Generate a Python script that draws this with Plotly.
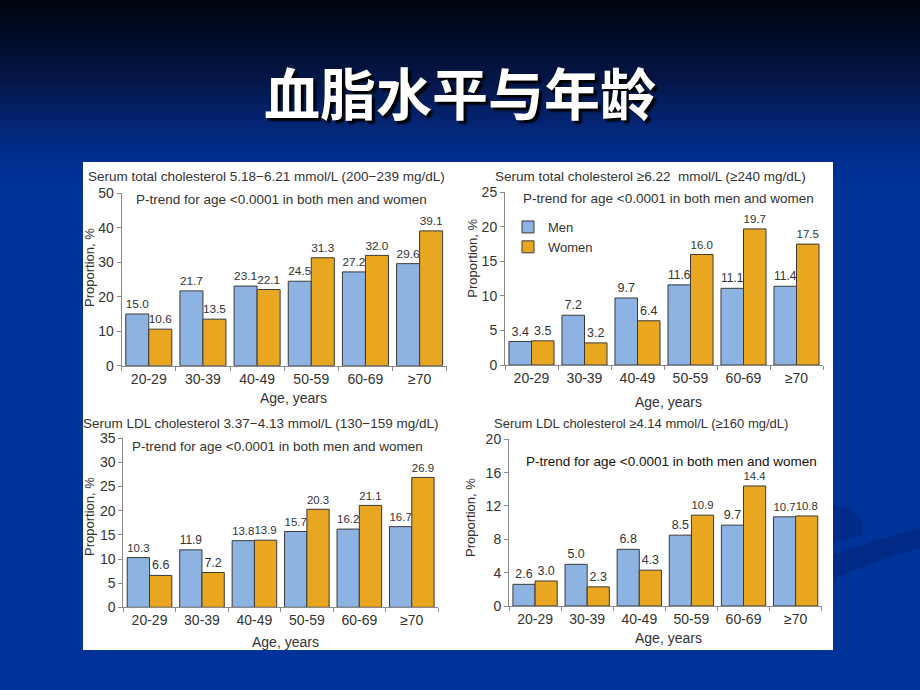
import plotly.graph_objects as go

# ---------------- data ----------------
categories = ["20-29", "30-39", "40-49", "50-59", "60-69", "≥70"]

tc_mid_men = [15.0, 21.7, 23.1, 24.5, 27.2, 29.6]
tc_mid_women = [10.6, 13.5, 22.1, 31.3, 32.0, 39.1]
tc_high_men = [3.4, 7.2, 9.7, 11.6, 11.1, 11.4]
tc_high_women = [3.5, 3.2, 6.4, 16.0, 19.7, 17.5]
ldl_mid_men = [10.3, 11.9, 13.8, 15.7, 16.2, 16.7]
ldl_mid_women = [6.6, 7.2, 13.9, 20.3, 21.1, 26.9]
ldl_high_men = [2.6, 5.0, 6.8, 8.5, 9.7, 10.7]
ldl_high_women = [3.0, 2.3, 4.3, 10.9, 14.4, 10.8]

panel_titles = [
    "Serum total cholesterol 5.18−6.21 mmol/L (200−239 mg/dL)",
    "Serum total cholesterol ≥6.22  mmol/L (≥240 mg/dL)",
    "Serum LDL cholesterol 3.37−4.13 mmol/L (130−159 mg/dL)",
    "Serum LDL cholesterol ≥4.14 mmol/L (≥160 mg/dL)",
]
trend_text = "P-trend for age <0.0001 in both men and women"
slide_title = "血脂水平与年龄"
series_names = ["Men", "Women"]

# ---------------- layout helpers ----------------
W, H = 920, 690
def px(x):
    return x / W
def py(y):
    return 1 - y / H

MEN_C = "#8db3e2"
WOMEN_C = "#e9a621"
TXT = "#333333"
FONT = "Liberation Sans, Arial, sans-serif"

fig = go.Figure()

# panels: (men, women, yrange, dtick, xdom px, ydom px)
panels = [
    (tc_mid_men, tc_mid_women, 50, 10, (121.7, 446.7), (193.3, 365.7)),
    (tc_high_men, tc_high_women, 25, 5, (505, 823), (192.3, 365.0)),
    (ldl_mid_men, ldl_mid_women, 35, 5, (123.3, 438), (438.3, 607.3)),
    (ldl_high_men, ldl_high_women, 20, 4, (509, 821.7), (439.3, 606.0)),
]

for i, (men, women, ymax, dt, xd, yd) in enumerate(panels):
    n = i + 1
    xa = "x" if n == 1 else f"x{n}"
    ya = "y" if n == 1 else f"y{n}"
    for vals, name, col in ((men, series_names[0], MEN_C), (women, series_names[1], WOMEN_C)):
        fig.add_trace(go.Bar(
            x=categories, y=vals, name=name, xaxis=xa, yaxis=ya,
            marker=dict(color=col, line=dict(color="#3a3a3a", width=1)),
            text=[f"{v:.1f}" for v in vals], textposition="outside",
            textfont=dict(family=FONT, size=12.5, color=TXT),
            cliponaxis=False, showlegend=(n == 2), legendgroup=name,
        ))
    xkey = "xaxis" if n == 1 else f"xaxis{n}"
    ykey = "yaxis" if n == 1 else f"yaxis{n}"
    fig.update_layout(**{
        xkey: dict(domain=[px(xd[0]), px(xd[1])], anchor=ya, showline=True,
                   linecolor="#8a8a8a", linewidth=1, ticks="outside",
                   tickson="boundaries", ticklen=4, tickcolor="#8a8a8a",
                   tickfont=dict(family=FONT, size=14, color=TXT),
                   showgrid=False, zeroline=False, fixedrange=True),
        ykey: dict(domain=[py(yd[1]), py(yd[0])], anchor=xa, range=[0, ymax],
                   dtick=dt, showline=True, linecolor="#8a8a8a", linewidth=1,
                   ticks="outside", ticklen=4, tickcolor="#8a8a8a",
                   tickfont=dict(family=FONT, size=14, color=TXT),
                   showgrid=False, zeroline=False, fixedrange=True),
    })

annotations = []
# slide title
annotations.append(dict(
    x=0.5, y=py(90), xref="paper", yref="paper", text=slide_title,
    showarrow=False, xanchor="center", yanchor="middle",
    font=dict(family="Noto Sans CJK SC", size=56, color="white",
              weight="bold", shadow="3px 3px 2px #000000"),
))

title_pos = [(266.5, 176.7), (650, 176.7), (260.8, 423.3), (640.8, 423)]
trend_pos = [(281.7, 200), (668.3, 198.3), (277.3, 446.7), (671.3, 461.7)]
ytitle_pos = [(89, 268), (471.7, 258), (89, 517), (470, 518)]
xtitle_pos = [(293, 398), (668, 401.7), (285, 641.7), (668, 638)]

for i in range(4):
    annotations.append(dict(
        x=px(title_pos[i][0]), y=py(title_pos[i][1]), xref="paper", yref="paper",
        text=panel_titles[i], showarrow=False, xanchor="center", yanchor="middle",
        font=dict(family=FONT, size=13.5 if i != 3 else 13, color=TXT)))
    annotations.append(dict(
        x=px(trend_pos[i][0]), y=py(trend_pos[i][1]), xref="paper", yref="paper",
        text=trend_text, showarrow=False, xanchor="center", yanchor="middle",
        font=dict(family=FONT, size=13.5, color=TXT if i < 3 else "#111111")))
    annotations.append(dict(
        x=px(ytitle_pos[i][0]), y=py(ytitle_pos[i][1]), xref="paper", yref="paper",
        text="Proportion, %", showarrow=False, textangle=-90,
        xanchor="center", yanchor="middle",
        font=dict(family=FONT, size=13, color=TXT)))
    annotations.append(dict(
        x=px(xtitle_pos[i][0]), y=py(xtitle_pos[i][1]), xref="paper", yref="paper",
        text="Age, years", showarrow=False, xanchor="center", yanchor="middle",
        font=dict(family=FONT, size=14, color=TXT)))

# ---------------- background ----------------
shapes = []
stops = [(0, (0, 5, 16)), (40, (0, 12, 40)), (80, (4, 22, 72)),
         (120, (4, 36, 112)), (160, (0, 47, 145)), (200, (0, 51, 153)),
         (690, (0, 51, 153))]
def grad(y):
    for (y0, c0), (y1, c1) in zip(stops[:-1], stops[1:]):
        if y0 <= y <= y1:
            t = (y - y0) / (y1 - y0)
            return "rgb(%d,%d,%d)" % tuple(round(a + (b - a) * t) for a, b in zip(c0, c1))
    return "rgb(0,51,153)"

step = 3
for y in range(0, 210, step):
    shapes.append(dict(type="rect", xref="paper", yref="paper", x0=0, x1=1,
                       y0=py(y + step + 0.5), y1=py(y), fillcolor=grad(y + step / 2),
                       line=dict(width=0), layer="below"))
shapes.append(dict(type="rect", xref="paper", yref="paper", x0=0, x1=1,
                   y0=0, y1=py(210), fillcolor="rgb(0,51,153)",
                   line=dict(width=0), layer="below"))
# faint swoosh decoration at right
shapes.append(dict(type="path", xref="paper", yref="paper",
                   path=f"M {px(830)},{py(556)} Q {px(875)},{py(540)} {px(920)},{py(528)} "
                        f"L {px(920)},{py(548)} Q {px(875)},{py(560)} {px(830)},{py(580)} Z",
                   fillcolor="rgba(0,30,110,0.45)", line=dict(width=0), layer="below"))
shapes.append(dict(type="path", xref="paper", yref="paper",
                   path=f"M {px(830)},{py(505)} Q {px(868)},{py(508)} {px(862)},{py(535)} "
                        f"L {px(830)},{py(545)} Z",
                   fillcolor="rgba(0,30,110,0.35)", line=dict(width=0), layer="below"))
# white panel
shapes.append(dict(type="rect", xref="paper", yref="paper",
                   x0=px(83), x1=px(833), y0=py(650), y1=py(162),
                   fillcolor="white", line=dict(width=0), layer="below"))

fig.update_layout(
    width=W, height=H, margin=dict(l=0, r=0, t=0, b=0, pad=0, autoexpand=False),
    paper_bgcolor="rgb(0,51,153)", plot_bgcolor="rgba(0,0,0,0)",
    barmode="group", bargap=0.15, bargroupgap=0,
    annotations=annotations, shapes=shapes,
    showlegend=True,
    legend=dict(x=px(508), y=py(212), xanchor="left", yanchor="top",
                bgcolor="rgba(0,0,0,0)", font=dict(family=FONT, size=13, color=TXT),
                itemwidth=30, tracegroupgap=0),
    font=dict(family=FONT),
)

fig.write_html("out.html", config={"displayModeBar": False},
               post_script="document.body.style.margin='0';document.body.style.overflow='hidden';")
